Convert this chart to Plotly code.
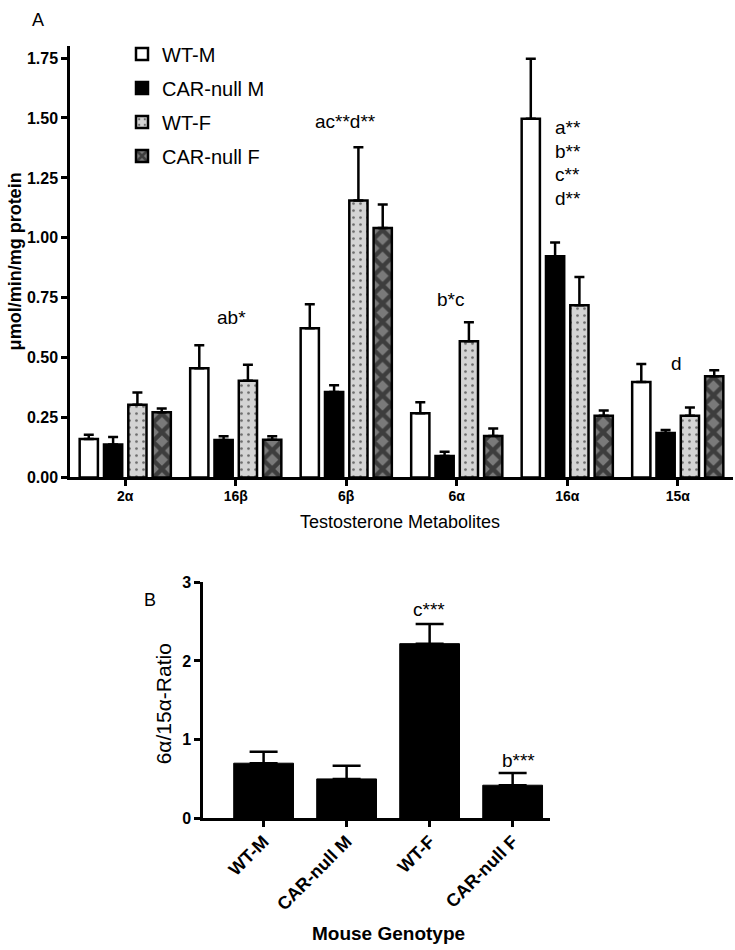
import plotly.graph_objects as go

W, H = 735, 950
FONT = "Arial, Liberation Sans, sans-serif"

# ---------------- data ----------------
metabolites = ["2α", "16β", "6β", "6α", "16α", "15α"]
groups = ["WT-M", "CAR-null M", "WT-F", "CAR-null F"]

wt_m = [0.16, 0.456, 0.623, 0.268, 1.497, 0.398]
wt_m_err = [0.018, 0.096, 0.10, 0.046, 0.25, 0.075]
car_m = [0.137, 0.156, 0.357, 0.09, 0.923, 0.186]
car_m_err = [0.032, 0.016, 0.028, 0.017, 0.057, 0.012]
wt_f = [0.303, 0.404, 1.156, 0.568, 0.719, 0.258]
wt_f_err = [0.051, 0.066, 0.222, 0.08, 0.117, 0.034]
car_f = [0.272, 0.157, 1.041, 0.173, 0.258, 0.422]
car_f_err = [0.016, 0.015, 0.098, 0.031, 0.021, 0.025]

genotypes = ["WT-M", "CAR-null M", "WT-F", "CAR-null F"]
ratio = [0.70, 0.50, 2.22, 0.42]
ratio_err = [0.146, 0.167, 0.25, 0.155]


def px(x):
    return x / W


def py(y):
    return 1 - y / H


fig = go.Figure()

styles = [
    dict(color="white"),
    dict(color="black"),
    dict(color="#d4d4d4", pattern=dict(shape=".", fgcolor="black", bgcolor="#d4d4d4",
                                       size=7, solidity=0.12, fillmode="overlay")),
    dict(color="#7a7a7a", pattern=dict(shape="x", fgcolor="black", bgcolor="#7a7a7a",
                                       size=13, solidity=0.55, fillmode="overlay")),
]
vals = [wt_m, car_m, wt_f, car_f]
errs = [wt_m_err, car_m_err, wt_f_err, car_f_err]

for i, g in enumerate(groups):
    m = dict(styles[i])
    m["line"] = dict(color="black", width=2.5)
    fig.add_trace(go.Bar(
        x=metabolites, y=vals[i], name=g, marker=m,
        legendgroup=g,
        error_y=dict(type="data", array=errs[i], arrayminus=[0] * len(errs[i]),
                     symmetric=False, color="black", thickness=2.5, width=5),
        xaxis="x", yaxis="y",
    ))

fig.add_trace(go.Bar(
    x=genotypes, y=ratio, width=0.72, showlegend=False,
    marker=dict(color="black", line=dict(color="black", width=1)),
    error_y=dict(type="data", array=ratio_err, arrayminus=[0] * 4, symmetric=False,
                 color="black", thickness=2.5, width=14),
    xaxis="x2", yaxis="y2",
))

axis_common = dict(showline=True, linecolor="black", linewidth=2.5, ticks="outside",
                   tickcolor="black", tickwidth=2.5, ticklen=6, showgrid=False,
                   zeroline=False)

fig.update_layout(
    width=W, height=H,
    margin=dict(l=0, r=0, t=0, b=0),
    paper_bgcolor="white", plot_bgcolor="white",
    font=dict(family=FONT, color="black"),
    barmode="group", bargap=0.12, bargroupgap=0.25,
    xaxis=dict(domain=[px(70), px(733)], range=[-0.5, 5.5], anchor="y",
               ticklabelstandoff=-2,
               tickfont=dict(size=14, weight="bold", family=FONT), **axis_common),
    yaxis=dict(domain=[py(478), py(38.8)], range=[0, 1.8], anchor="x",
               tickvals=[0, 0.25, 0.5, 0.75, 1.0, 1.25, 1.5, 1.75],
               ticktext=["0.00", "0.25", "0.50", "0.75", "1.00", "1.25", "1.50", "1.75"],
               tickfont=dict(size=16, weight="bold", family=FONT), **axis_common),
    xaxis2=dict(domain=[px(203), px(550)], range=[-0.73, 3.45], anchor="y2",
                tickangle=-45, ticklabelstandoff=-3,
                tickfont=dict(size=18, weight="bold", family=FONT), **axis_common),
    yaxis2=dict(domain=[py(825), py(584)], range=[0, 3.01], anchor="x2",
                tickvals=[0, 1, 2, 3],
                tickfont=dict(size=16, weight="bold", family=FONT), **axis_common),
    legend=dict(x=px(122), y=py(27), xanchor="left", yanchor="top",
                font=dict(size=20, family=FONT), tracegroupgap=5,
                bgcolor="rgba(0,0,0,0)"),
)

ann = []


def t(x, y, text, size=15, bold=False, angle=0, xanchor="center"):
    ann.append(dict(x=px(x), y=py(y), xref="paper", yref="paper", text=text,
                    showarrow=False, textangle=angle, xanchor=xanchor, yanchor="middle",
                    font=dict(size=size, family=FONT, color="black",
                              weight="bold" if bold else "normal")))


t(38, 12, "A", size=18)
t(150, 603, "B", size=18)
t(15, 258, "μmol/min/mg protein", size=18, bold=True, angle=-90)
t(400, 523, "Testosterone Metabolites", size=18)
t(163, 709, "6α/15α-Ratio", size=21, angle=-90)
t(388, 942, "Mouse Genotype", size=19, bold=True)

t(231, 315, "ab*", size=19)
t(345, 116, "ac**d**", size=19)
t(450, 297, "b*c", size=19)
for k, lab in enumerate(["a**", "b**", "c**", "d**"]):
    t(553, 122 + 24 * k, lab, size=19, xanchor="left")
t(676, 362, "d", size=19)
t(429, 612, "c***", size=19)
t(518, 766, "b***", size=19)

fig.update_layout(annotations=ann)

fig.write_html("out.html",
               config={"displayModeBar": False},
               post_script="document.body.style.margin='0px';"
                           "document.documentElement.style.overflow='hidden';")
